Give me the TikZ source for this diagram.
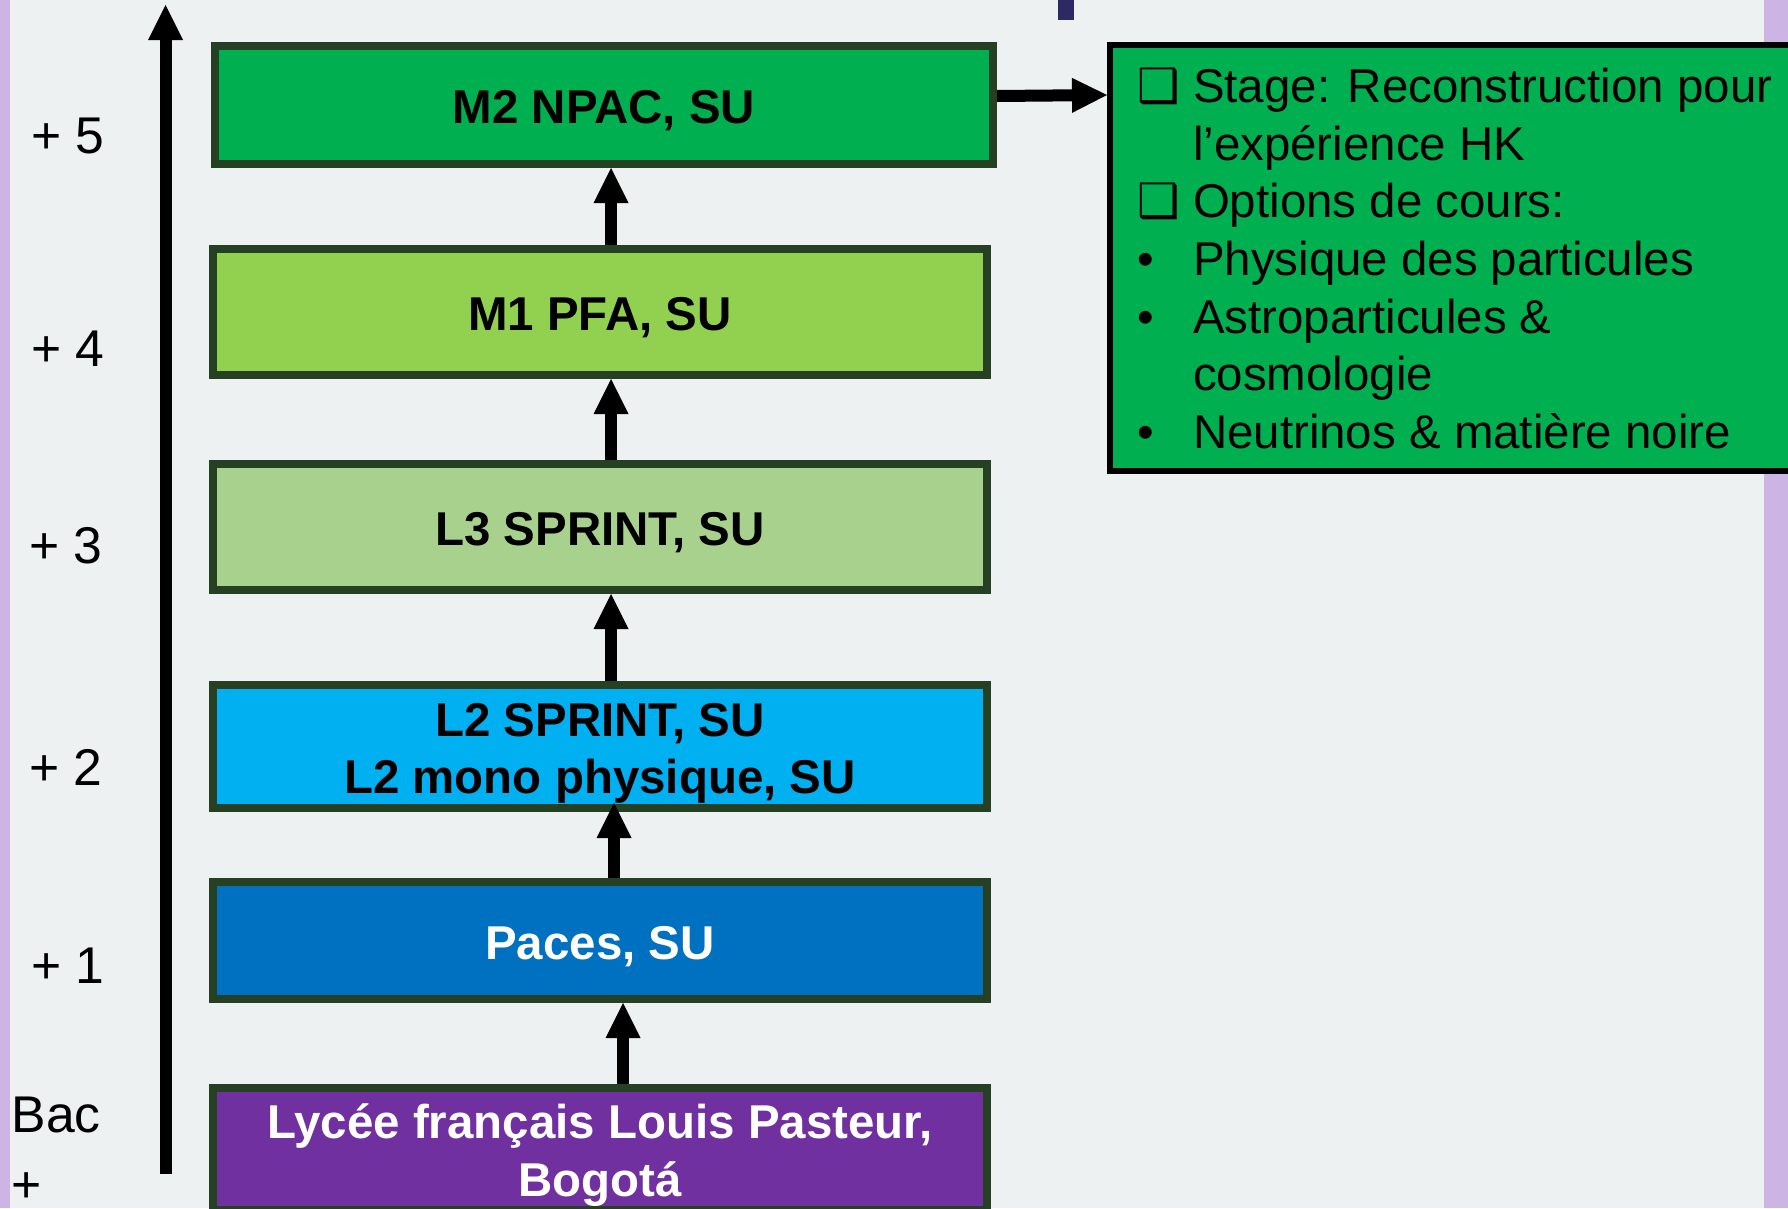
\documentclass[tikz,border=0pt]{standalone}
\usepackage{fontspec}
\setmainfont{Liberation Sans}
\newfontfamily\symfont{DejaVu Sans}
\usepackage{xcolor}
\usetikzlibrary{positioning,arrows.meta}

\definecolor{bggray}{RGB}{237,241,242}
\definecolor{lavender}{RGB}{204,180,228}
\definecolor{markblue}{RGB}{43,42,99}
\definecolor{darkline}{RGB}{38,64,36}
\definecolor{m2green}{RGB}{0,176,80}
\definecolor{m1green}{RGB}{146,208,80}
\definecolor{l3green}{RGB}{169,209,142}
\definecolor{l2blue}{RGB}{0,176,240}
\definecolor{pacesblue}{RGB}{0,112,192}
\definecolor{lyceepurple}{RGB}{112,48,160}

\begin{document}
\begin{tikzpicture}[
  box/.style={draw=darkline, line width=0.08cm, minimum width=7.74cm, inner sep=0pt,
    align=center, font=\fontsize{13.5}{16.4}\selectfont\bfseries,
    execute at begin node={\rule{0pt}{0.45cm}}},
  infobox/.style={draw=black, line width=0.06cm, fill=m2green, inner xsep=0.27cm, inner ysep=0pt,
    minimum height=4.26cm, font=\fontsize{13.5}{16.4}\selectfont},
  uparrow/.style={line width=0.12cm, -{Triangle[width=0.35cm,length=0.35cm,line width=0pt]}},
  year/.style={anchor=base west, inner sep=0pt, font=\fontsize{14.7}{19.9}\selectfont}
]
% background
\useasboundingbox (0,0) rectangle (17.88,12.08);
\fill [bggray] (0,0) rectangle (17.88,12.08);
\fill [lavender] (0,0) rectangle (0.10,12.08);
\fill [lavender] (17.64,0) rectangle (17.88,12.08);
\fill [markblue] (10.58,11.88) rectangle (10.74,12.08);

% study path, from the bottom up
\node (lycee) [box, fill=lyceepurple, text=white, minimum height=1.22cm] at (6.00,0.59) {\rule{0pt}{0.47cm}Lycée français Louis Pasteur,\\Bogotá};
\node (paces) [box, fill=pacesblue, text=white, minimum height=1.17cm, above=0.81cm of lycee] {Paces, SU};
\node (l2) [box, fill=l2blue, minimum height=1.23cm, above=0.66cm of paces] {\rule{0pt}{0.47cm}L2 SPRINT, SU\\L2 mono physique, SU};
\node (l3) [box, fill=l3green, minimum height=1.26cm, above=0.87cm of l2] {L3 SPRINT, SU};
\node (m1) [box, fill=m1green, minimum height=1.26cm, above=0.81cm of l3] {M1 PFA, SU};
\node (m2) [box, fill=m2green, minimum width=7.78cm, minimum height=1.18cm, above=0.77cm of m1, xshift=0.04cm] {M2 NPAC, SU};

\node (stage) [infobox, right=1.10cm of m2.north east, anchor=north west] {%
  \raisebox{-0.06cm}[\height][\depth]{%
  \begin{tabular}{@{}p{0.56cm}@{}p{6.2cm}@{}}
  {\symfont ❑} & Stage: Reconstruction pour\\
  & l’expérience HK\\
  {\symfont ❑} & Options de cours:\\
  • & Physique des particules\\
  • & Astroparticules \&\\
  & cosmologie\\
  • & Neutrinos \& matière noire
  \end{tabular}}};

\draw [uparrow] ([xshift=0.23cm]lycee.north) -- ([xshift=0.23cm]paces.south);
\draw [uparrow] ([xshift=0.14cm]paces.north) -- ([xshift=0.14cm,yshift=0.09cm]l2.south);
\draw [uparrow] ([xshift=0.11cm]l2.north) -- ([xshift=0.11cm]l3.south);
\draw [uparrow] ([xshift=0.11cm]l3.north) -- ([xshift=0.11cm]m1.south);
\draw [uparrow] ([xshift=0.11cm]m1.north) -- ([xshift=0.07cm]m2.south);
\draw [uparrow] ([yshift=0.09cm]m2.east) -- ([yshift=-0.53cm]stage.north west);

% years after the bac
\coordinate (axisbottom) at (1.655,0.34);
\coordinate (axistop) at (1.655,12.03);
\draw [uparrow] (axisbottom) -- (axistop);

\node (y5) [year] at (0.305,10.55) {+ 5};
\node (y4) [year] at (0.305,8.42) {+ 4};
\node (y3) [year] at (0.285,6.45) {+ 3};
\node (y2) [year] at (0.285,4.23) {+ 2};
\node (y1) [year] at (0.305,2.25) {+ 1};
\node (bac) [year, anchor=north west, align=left] at (0.11,1.12) {Bac\\+};
\end{tikzpicture}
\end{document}
